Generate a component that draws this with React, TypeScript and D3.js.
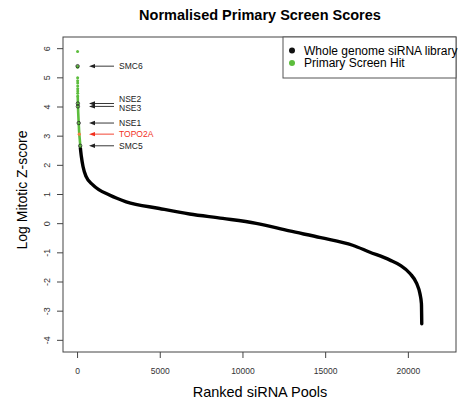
import React, { useEffect, useRef } from 'react';
import * as d3 from 'd3';

// ranked siRNA pools vs normalised log mitotic z-score
const curveRanks = [170, 230, 330, 520, 925, 1930, 2940, 4950, 6770, 8780, 10800, 12810, 14700, 16630, 17640, 18890, 19490, 20100, 20500, 20700, 20790, 20810];
const curveScores = [2.6, 2.3, 1.96, 1.61, 1.33, 0.98, 0.75, 0.52, 0.33, 0.18, 0.01, -0.25, -0.48, -0.74, -0.97, -1.25, -1.42, -1.71, -2.05, -2.4, -2.74, -3.43];

// primary screen hits: the sparse top ones as dots, the rest as a dense run
const hitDotRanks = [1, 2, 3, 5, 6, 7, 8, 9, 10, 11, 12];
const hitDotScores = [5.9, 5.4, 5.36, 5.0, 4.9, 4.82, 4.72, 4.63, 4.55, 4.47, 4.38];
const hitRunRanks = [12, 20, 40, 70, 105, 140, 175];
const hitRunScores = [4.38, 4.14, 3.8, 3.45, 3.07, 2.85, 2.6];

const genes = ['SMC6', 'NSE2', 'NSE3', 'NSE1', 'TOPO2A', 'SMC5'];
const geneRanks = [2, 19, 21, 70, 105, 160];
const geneScores = [5.4, 4.12, 4.02, 3.45, 3.07, 2.67];

const yTicks = [-4, -3, -2, -1, 0, 1, 2, 3, 4, 5, 6];
const xTicks = [0, 5000, 10000, 15000, 20000];

const legendLabels = ['Whole genome siRNA library', 'Primary Screen Hit'];

const W = 460, H = 403;
const font = '"Liberation Sans", Arial, Helvetica, sans-serif';
const GREEN = '#5cbd3c';
const RED = '#f2301e';

const App = () => {
    const anchor = useRef<SVGSVGElement>(null);

    useEffect(() => {
        document.body.style.margin = '0';
        const svg = d3.select(anchor.current);
        svg.selectAll('*').remove();

        const x = d3.scaleLinear().domain([-880, 22880]).range([63, 456]);
        const y = d3.scaleLinear().domain([-4.4, 6.4]).range([352, 37]);

        // title
        svg.append('text')
            .attr('x', 260).attr('y', 20)
            .attr('text-anchor', 'middle')
            .style('font-family', font).style('font-size', '14.5px').style('font-weight', 'bold')
            .text('Normalised Primary Screen Scores');

        // plot box
        svg.append('rect')
            .attr('x', 63).attr('y', 37).attr('width', 393).attr('height', 315)
            .attr('fill', 'none').attr('stroke', '#444').attr('stroke-width', 1);

        // y axis
        const yAx = svg.append('g');
        yTicks.forEach(t => {
            yAx.append('line')
                .attr('x1', 57).attr('x2', 63).attr('y1', y(t)).attr('y2', y(t))
                .attr('stroke', '#444');
            yAx.append('text')
                .attr('transform', `translate(50,${y(t)}) rotate(-90)`)
                .attr('text-anchor', 'middle')
                .style('font-family', font).style('font-size', '9px').attr('fill', '#333')
                .text(t);
        });
        svg.append('text')
            .attr('transform', 'translate(27,190) rotate(-90)')
            .attr('text-anchor', 'middle')
            .style('font-family', font).style('font-size', '14px')
            .text('Log Mitotic Z-score');

        // x axis
        const xAx = svg.append('g');
        xTicks.forEach(t => {
            xAx.append('line')
                .attr('x1', x(t)).attr('x2', x(t)).attr('y1', 352).attr('y2', 358)
                .attr('stroke', '#444');
            xAx.append('text')
                .attr('x', x(t)).attr('y', 374)
                .attr('text-anchor', 'middle')
                .style('font-family', font).style('font-size', '8.5px').attr('fill', '#333')
                .text(t);
        });
        svg.append('text')
            .attr('x', 260).attr('y', 397)
            .attr('text-anchor', 'middle')
            .style('font-family', font).style('font-size', '14.5px')
            .text('Ranked siRNA Pools');

        // whole library curve
        const line = d3.line<number>()
            .x((d, i) => x(curveRanks[i]))
            .y(d => y(d))
            .curve(d3.curveMonotoneX);
        svg.append('path')
            .attr('d', line(curveScores))
            .attr('fill', 'none').attr('stroke', '#000')
            .attr('stroke-width', 3.4).attr('stroke-linecap', 'round');

        // hits
        const hitLine = d3.line<number>()
            .x((d, i) => x(hitRunRanks[i]))
            .y(d => y(d))
            .curve(d3.curveMonotoneY);
        svg.append('path')
            .attr('d', hitLine(hitRunScores))
            .attr('fill', 'none').attr('stroke', GREEN)
            .attr('stroke-width', 2.6);
        svg.selectAll('.hit').data(hitDotScores).enter()
            .append('circle')
            .attr('class', 'hit')
            .attr('cx', (d, i) => x(hitDotRanks[i]))
            .attr('cy', d => y(d))
            .attr('r', 1.5)
            .attr('fill', GREEN);

        // annotated genes
        genes.forEach((g, i) => {
            const cy = y(geneScores[i]);
            const col = g === 'TOPO2A' ? RED : '#222';
            if (g === 'TOPO2A') {
                svg.append('circle').attr('cx', x(geneRanks[i])).attr('cy', cy).attr('r', 1.6).attr('fill', '#f08040');
            } else {
                svg.append('circle').attr('cx', x(geneRanks[i])).attr('cy', cy).attr('r', 1.7)
                    .attr('fill', 'none').attr('stroke', '#222').attr('stroke-width', 0.8);
            }
            svg.append('line')
                .attr('x1', 114).attr('x2', 92).attr('y1', cy).attr('y2', cy)
                .attr('stroke', col).attr('stroke-width', 0.9);
            svg.append('path')
                .attr('d', `M89,${cy} L95,${cy - 2.2} L95,${cy + 2.2} Z`)
                .attr('fill', col);
            const nudge = g === 'NSE2' ? -4.5 : g === 'NSE3' ? 2 : 0;
            svg.append('text')
                .attr('x', 119).attr('y', cy + nudge + 3)
                .style('font-family', font).style('font-size', '8.5px')
                .attr('fill', g === 'TOPO2A' ? RED : '#222')
                .text(g);
        });

        // legend
        const lg = svg.append('g');
        lg.append('rect')
            .attr('x', 283).attr('y', 37).attr('width', 173).attr('height', 41)
            .attr('fill', '#fff').attr('stroke', '#555');
        legendLabels.forEach((l, i) => {
            lg.append('circle')
                .attr('cx', 292).attr('cy', 50.5 + i * 12.5).attr('r', 3)
                .attr('fill', i === 0 ? '#111' : GREEN);
            lg.append('text')
                .attr('x', 304).attr('y', 54.5 + i * 12.5)
                .style('font-family', font).style('font-size', '12px')
                .text(l);
        });
    }, []);

    return <svg ref={anchor} width={W} height={H} style={{ display: 'block', background: '#fff' }} />;
};

export default App;
